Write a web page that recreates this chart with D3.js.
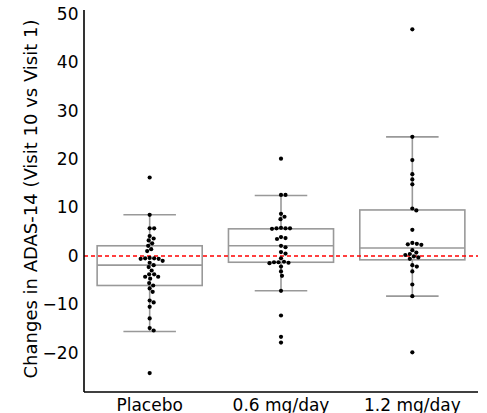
<!DOCTYPE html>
<html><head><meta charset="utf-8">
<script src="https://cdn.jsdelivr.net/npm/d3@7"></script>
<style>body{margin:0;background:#fff}svg{display:block}text{font-family:"DejaVu Sans",sans-serif}</style>
</head><body><svg id="c" width="487" height="413"></svg>
<script>
const categories = ["Placebo", "0.6 mg/day", "1.2 mg/day"];
const placebo = [16.2, 8.5, 5.7, 5.7, 4.1, 3.6, 3.2, 2.6, 2.1, 1.4, 1.0, -0.5, -0.5, -0.6, -0.6, -0.4, -1.0, -1.4, -1.9, -2.3, -3.0, -3.8, -3.8, -4.3, -4.3, -4.7, -5.6, -6.1, -6.7, -7.4, -9.2, -9.6, -10.5, -12.9, -14.9, -15.4, -24.2];
const dose06 = [20.1, 12.6, 12.6, 8.7, 8.1, 7.6, 5.7, 5.7, 5.6, 5.7, 5.8, 3.9, 3.7, 3.5, 2.1, 1.8, 0.8, 0.5, -0.5, -1.2, -1.3, -1.4, -1.5, -1.3, -2.2, -3.2, -4.1, -7.2, -12.3, -16.7, -17.9];
const dose12 = [46.8, 24.6, 19.8, 16.9, 15.8, 14.8, 9.8, 9.4, 5.4, 2.7, 2.5, 2.3, 2.4, 1.2, 0.7, 0.4, 0.2, -0.1, -0.6, -0.3, -1.9, -2.2, -3.2, -5.9, -8.3, -19.9];
// box statistics per category: q1, median, q3, lower whisker, upper whisker
const boxQ1 = [-6.1, -1.3, -0.8];
const boxMedian = [-1.9, 2.1, 1.65];
const boxQ3 = [2.1, 5.6, 9.5];
const whiskerLow = [-15.6, -7.2, -8.3];
const whiskerHigh = [8.5, 12.5, 24.6];
const yTicks = [-20, -10, 0, 10, 20, 30, 40, 50];
const yLabel = "Changes in ADAS-14 (Visit 10 vs Visit 1)";

(function () {
const series = [placebo, dose06, dose12];
const svg = d3.select("#c");
const mL = 84, mR = 478, mT = 10, mB = 392;
const x = d3.scaleBand().domain(categories).range([mL, mR]);
const y = d3.scaleLinear().domain([-28.1, 50.8]).range([mB, mT]);
const bw = x.bandwidth();
const gray = "#999999";

categories.forEach((c, i) => {
  const cx = x(c) + bw / 2;
  const g = svg.append("g").attr("fill", "none").attr("stroke", gray).attr("stroke-width", 1.6);
  g.append("line").attr("x1", cx).attr("x2", cx).attr("y1", y(whiskerHigh[i])).attr("y2", y(boxQ3[i]));
  g.append("line").attr("x1", cx).attr("x2", cx).attr("y1", y(boxQ1[i])).attr("y2", y(whiskerLow[i]));
  g.append("line").attr("x1", cx - bw * 0.2).attr("x2", cx + bw * 0.2).attr("y1", y(whiskerHigh[i])).attr("y2", y(whiskerHigh[i]));
  g.append("line").attr("x1", cx - bw * 0.2).attr("x2", cx + bw * 0.2).attr("y1", y(whiskerLow[i])).attr("y2", y(whiskerLow[i]));
  g.append("rect").attr("x", cx - bw * 0.4).attr("width", bw * 0.8).attr("y", y(boxQ3[i])).attr("height", y(boxQ1[i]) - y(boxQ3[i]));
  g.append("line").attr("x1", cx - bw * 0.4).attr("x2", cx + bw * 0.4).attr("y1", y(boxMedian[i])).attr("y2", y(boxMedian[i]));
});

svg.append("line").attr("x1", mL).attr("x2", mR).attr("y1", y(0)).attr("y2", y(0))
  .attr("stroke", "#ff0000").attr("stroke-width", 1.6).attr("stroke-dasharray", "4,3");

const r = 2.1, minD = 4.4;
function swarm(vals, cx) {
  const pts = vals.map(v => ({ v, py: y(v) })).sort((a, b) => a.py - b.py);
  const placed = [];
  pts.forEach(p => {
    let best = cx;
    for (let step = 0; step < 400; step++) {
      const off = (step % 2 === 1 ? 1 : -1) * Math.ceil(step / 2) * 0.5;
      const px = cx + off;
      if (placed.every(q => Math.hypot(q.px - px, q.py - p.py) >= minD)) { best = px; break; }
    }
    p.px = best; placed.push(p);
  });
  return placed;
}
categories.forEach((c, i) => {
  const cx = x(c) + bw / 2;
  svg.append("g").selectAll("circle").data(swarm(series[i], cx)).join("circle")
    .attr("cx", d => d.px).attr("cy", d => d.py).attr("r", r).attr("fill", "#000");
});

const yAxis = d3.axisLeft(y).tickValues(yTicks).tickSize(0).tickPadding(5.5).tickFormat(d => d < 0 ? "\u2212" + Math.abs(d) : d);
const gy = svg.append("g").attr("transform", `translate(${mL},0)`).call(yAxis);
gy.select(".domain").attr("d", `M0,${mT}V${mB}`).attr("stroke", "#000").attr("stroke-width", 1.6);
gy.selectAll("text").attr("font-size", 17).attr("fill", "#000").attr("font-family", "DejaVu Sans");

const xAxis = d3.axisBottom(x).tickSize(0).tickPadding(6.5);
const gx = svg.append("g").attr("transform", `translate(0,${mB})`).call(xAxis);
gx.select(".domain").attr("d", `M${mL},0H${mR}`).attr("stroke", "#000").attr("stroke-width", 1.6);
gx.selectAll("text").attr("font-size", 17).attr("fill", "#000").attr("font-family", "DejaVu Sans");

svg.append("text").attr("transform", `translate(36.5,199) rotate(-90)`)
  .attr("text-anchor", "middle").attr("font-size", 18).attr("fill", "#000").text(yLabel);
})();
</script></body></html>
